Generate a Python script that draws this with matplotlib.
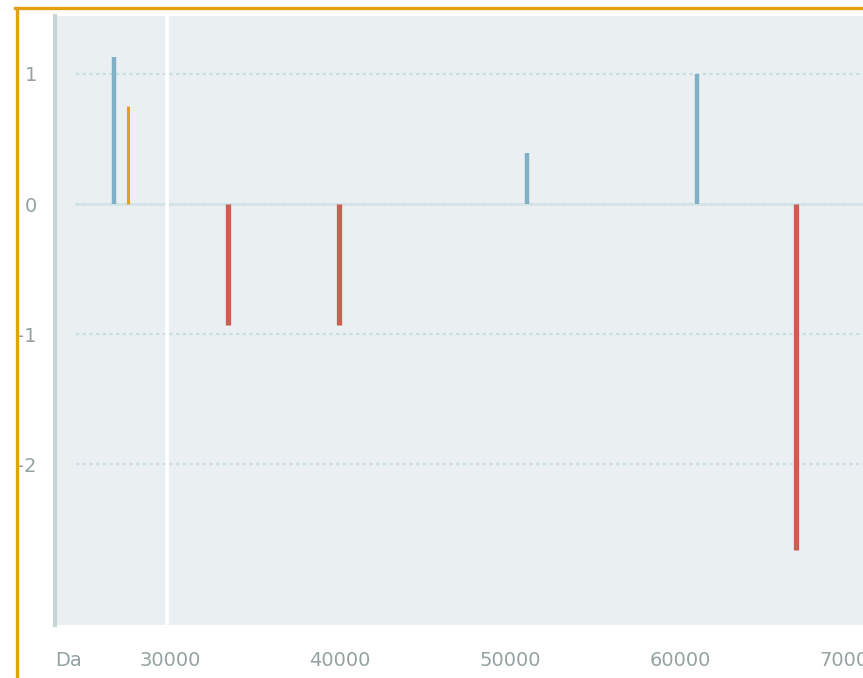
import matplotlib.pyplot as plt
from matplotlib.lines import Line2D

# stick positions (Da) and heights, one list per colour group
blue_mass = [26700, 51000, 61000]
blue_val = [1.13, 0.39, 1.0]
orange_mass = [27530]
orange_val = [0.75]
red_mass = [33400, 39940, 66850]
red_val = [-0.93, -0.93, -2.66]

yticks = [1, 0, -1, -2]
xticks = [30000, 40000, 50000, 60000, 70000]

fig = plt.figure(figsize=(8.63, 6.78), dpi=100)
ax = fig.add_axes([55/863, 53/678, 808/863, 609/678])
ax.set_facecolor('#eaf0f2')

ax.set_xlim(23235, 70765)
ax.set_ylim(-3.238, 1.446)

# horizontal dotted guides (start a bit right of the spine)
for y in yticks:
    ax.axhline(y, xmin=0.026, color='#c9dde2', lw=1.6, ls=(0, (1.5, 1.5)), zorder=1)
ax.axhline(0, xmin=0.026, color='#d2e2e6', lw=1.8, zorder=1)
ax.axvline(29850, color='white', lw=2.6, zorder=1)

ax.vlines(blue_mass, 0, blue_val, color='#7fb0c8', lw=3.2, zorder=3)
ax.vlines(orange_mass, 0, orange_val, color='#e2a21e', lw=2.2, zorder=3)
ax.vlines(red_mass, 0, red_val, color='#c95f50', lw=3.8, zorder=3)

ax.set_xticks(xticks)
ax.set_xticklabels([str(x) for x in xticks])
ax.set_yticks(yticks)
ax.set_yticklabels([str(y) for y in yticks])
ax.tick_params(length=0, colors='#94a2a2', labelsize=14)
ax.tick_params(axis='x', pad=19)
ax.tick_params(axis='y', pad=13)

for s in ['top', 'right', 'bottom']:
    ax.spines[s].set_visible(False)
ax.spines['left'].set_color('#c6d6d6')
ax.spines['left'].set_linewidth(3)

ax.text(0.0, -0.058, 'Da', transform=ax.transAxes, ha='left', va='center',
        color='#94a2a2', fontsize=14)

# orange frame on the left and top
fig.add_artist(Line2D([16.5/863, 16.5/863], [0, 1 - 8/678], color='#e3a011', lw=2.4))
fig.add_artist(Line2D([15/863, 1], [1 - 8/678, 1 - 8/678], color='#e3a011', lw=2.4))

fig.savefig('out.png', dpi=100)
